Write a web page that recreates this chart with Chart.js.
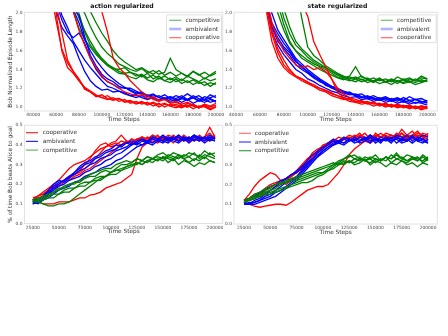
<!DOCTYPE html>
<html><head><meta charset="utf-8">
<script src="https://cdn.jsdelivr.net/npm/chart.js@4/dist/chart.umd.min.js"></script>
<style>
html,body{margin:0;padding:0;background:#fff;}
#wrap{position:relative;width:448px;height:336px;background:#fff;}
canvas{position:absolute;left:0;top:0;width:448px;height:336px;}
</style></head><body>
<div id="wrap">
<canvas id="c1" width="448" height="336"></canvas>
<canvas id="c2" width="448" height="336"></canvas>
<canvas id="c3" width="448" height="336"></canvas>
<canvas id="c4" width="448" height="336"></canvas>
</div>
<script>
// ---------- x values ----------
const X_TOP = [40000,45000,50000,55000,60000,65000,70000,75000,80000,85000,90000,95000,100000,105000,110000,115000,120000,125000,130000,135000,140000,145000,150000,155000,160000,165000,170000,175000,180000,185000,190000,195000,200000];
const X_BOT = [25000,30000,35000,40000,45000,50000,55000,60000,65000,70000,75000,80000,85000,90000,95000,100000,105000,110000,115000,120000,125000,130000,135000,140000,145000,150000,155000,160000,165000,170000,175000,180000,185000,190000,195000,200000];

// ---------- tick labels ----------
const TOP_X_TICKS = [40000,60000,80000,100000,120000,140000,160000,180000,200000];
const BOT_X_TICKS = [25000,50000,75000,100000,125000,150000,175000,200000];
const TOP_Y_TICKS = [1.0,1.2,1.4,1.6,1.8,2.0];
const BOT_Y_TICKS = [0.0,0.1,0.2,0.3,0.4,0.5];

// ---------- titles / legends ----------
const PANEL_TITLES = ['action regularized','state regularized'];
const TOP_LEGEND = ['competitive','ambivalent','cooperative'];
const BOT_LEGEND = ['cooperative','ambivalent','competitive'];
const X_TITLE = 'Time Steps';
const Y_TITLE_TOP = 'Bob Normalized Episode Length';
const Y_TITLE_BOT = '% of time Bob beats Alice to goal';

// ---------- top-left: action regularized, episode length ----------
const actLenCoop = [
 [3.2,2.9,2.6,2.25,1.92,1.62,1.47,1.38,1.29,1.21,1.17,1.13,1.1,1.12,1.08,1.09,1.06,1.07,1.04,1.06,1.03,1.05,1.02,1.04,1.01,1.03,1.0,1.04,1.01,0.99,1.03,1.0,1.02],
 [3.3,3.0,2.7,2.4,2.1,1.8,1.5,1.38,1.3,1.19,1.16,1.12,1.1,1.08,1.1,1.06,1.08,1.04,1.06,1.03,1.05,1.01,1.04,1.0,1.03,1.01,0.99,1.02,0.98,1.01,1.0,0.97,1.0],
 [3.6,3.4,3.2,3.0,2.7,2.45,2.22,2.02,1.82,1.66,1.52,1.42,1.33,1.27,1.24,1.2,1.16,1.14,1.12,1.13,1.09,1.11,1.07,1.08,1.05,1.06,1.03,1.05,1.02,1.0,1.03,1.01,1.04],
 [3.6,3.5,3.3,3.1,2.9,2.7,2.5,2.35,2.2,2.12,2.06,2.04,2.02,1.8,1.52,1.42,1.36,1.28,1.22,1.16,1.12,1.08,1.06,1.08,1.04,1.05,1.02,1.0,1.03,0.99,1.02,0.98,1.0],
 [3.2,2.9,2.6,2.3,2.0,1.6,1.42,1.36,1.28,1.2,1.16,1.11,1.13,1.09,1.07,1.09,1.05,1.06,1.03,1.05,1.02,1.04,1.0,1.03,1.01,0.99,1.02,1.0,1.03,0.99,1.01,0.98,1.0]
];
const actLenAmb = [
 [3.2,2.9,2.6,2.3,2.02,1.85,1.76,1.68,1.52,1.38,1.28,1.22,1.18,1.19,1.16,1.17,1.14,1.12,1.1,1.12,1.09,1.1,1.07,1.1,1.08,1.06,1.09,1.07,1.1,1.06,1.08,1.05,1.07],
 [3.3,3.0,2.7,2.4,2.12,1.93,1.8,1.74,1.79,1.68,1.52,1.4,1.32,1.27,1.24,1.2,1.21,1.17,1.14,1.15,1.11,1.13,1.1,1.08,1.11,1.09,1.12,1.08,1.1,1.07,1.11,1.09,1.06],
 [3.5,3.3,3.1,2.8,2.55,2.3,2.15,2.05,1.98,1.75,1.55,1.44,1.35,1.3,1.27,1.22,1.2,1.2,1.17,1.14,1.13,1.1,1.12,1.09,1.11,1.07,1.1,1.08,1.12,1.09,1.07,1.1,1.12],
 [3.4,3.1,2.8,2.5,2.2,1.98,1.85,1.7,1.6,1.5,1.42,1.35,1.28,1.22,1.2,1.17,1.15,1.12,1.13,1.1,1.08,1.1,1.07,1.09,1.06,1.08,1.05,1.08,1.04,1.07,1.05,1.08,1.05],
 [3.6,3.4,3.2,3.0,2.75,2.45,2.2,2.04,1.9,1.72,1.6,1.5,1.42,1.35,1.3,1.25,1.21,1.18,1.15,1.16,1.12,1.14,1.1,1.13,1.09,1.12,1.1,1.14,1.1,1.12,1.08,1.13,1.1]
];
const actLenComp = [
 [3.6,3.4,3.2,3.0,2.7,2.45,2.2,2.02,1.84,1.72,1.64,1.56,1.5,1.45,1.42,1.38,1.36,1.37,1.33,1.35,1.31,1.34,1.3,1.33,1.29,1.32,1.28,1.33,1.3,1.27,1.31,1.28,1.3],
 [3.7,3.5,3.3,3.1,2.9,2.65,2.4,2.18,2.0,1.8,1.66,1.58,1.5,1.44,1.4,1.36,1.35,1.32,1.3,1.34,1.29,1.27,1.31,1.28,1.26,1.3,1.25,1.28,1.24,1.27,1.23,1.26,1.24],
 [3.8,3.6,3.4,3.2,3.0,2.8,2.55,2.3,2.1,2.0,1.86,1.74,1.64,1.57,1.52,1.46,1.43,1.4,1.38,1.41,1.36,1.39,1.35,1.37,1.52,1.4,1.36,1.33,1.38,1.34,1.37,1.33,1.36],
 [3.8,3.7,3.5,3.3,3.1,2.9,2.7,2.45,2.25,2.1,2.02,1.9,1.79,1.7,1.6,1.53,1.48,1.44,1.4,1.42,1.38,1.35,1.39,1.34,1.37,1.33,1.36,1.32,1.38,1.35,1.3,1.34,1.38],
 [3.7,3.5,3.3,3.0,2.8,2.55,2.3,2.1,1.95,1.82,1.7,1.6,1.52,1.46,1.41,1.4,1.42,1.37,1.35,1.32,1.36,1.3,1.33,1.28,1.31,1.27,1.3,1.26,1.29,1.25,1.27,1.22,1.26]
];

// ---------- top-right: state regularized, episode length ----------
const stLenCoop = [
 [4.0,3.6,3.2,2.8,2.4,2.05,1.7,1.52,1.42,1.36,1.32,1.28,1.25,1.22,1.2,1.17,1.14,1.12,1.1,1.08,1.06,1.07,1.04,1.05,1.02,1.04,1.01,1.03,1.0,1.02,0.99,1.01,0.99],
 [4.0,3.6,3.2,2.8,2.45,2.1,1.82,1.62,1.5,1.4,1.33,1.3,1.27,1.22,1.18,1.16,1.12,1.1,1.08,1.09,1.05,1.06,1.03,1.05,1.01,1.03,1.0,1.02,0.99,1.01,0.98,1.0,0.98],
 [4.5,4.3,4.1,3.9,3.6,3.3,3.0,2.8,2.6,2.4,2.25,2.1,1.97,1.7,1.56,1.43,1.3,1.16,1.1,1.08,1.06,1.05,1.06,1.03,1.04,1.01,1.03,1.0,1.02,0.99,1.01,0.98,1.0],
 [4.0,3.7,3.3,2.9,2.5,2.12,1.78,1.58,1.45,1.38,1.33,1.3,1.26,1.24,1.2,1.18,1.15,1.12,1.09,1.06,1.05,1.03,1.04,1.01,1.03,1.0,1.02,0.99,1.01,0.98,1.0,0.97,0.99],
 [4.2,3.8,3.4,3.0,2.6,2.2,1.9,1.72,1.6,1.52,1.45,1.42,1.44,1.4,1.42,1.38,1.3,1.2,1.14,1.1,1.08,1.06,1.04,1.05,1.02,1.04,1.0,1.03,1.01,1.02,0.99,1.01,1.0]
];
const stLenAmb = [
 [4.0,3.6,3.2,2.8,2.4,2.08,1.85,1.7,1.62,1.55,1.45,1.4,1.36,1.31,1.27,1.24,1.2,1.18,1.15,1.13,1.14,1.11,1.09,1.1,1.07,1.09,1.06,1.08,1.05,1.07,1.04,1.06,1.04],
 [4.1,3.7,3.3,2.9,2.5,2.15,1.9,1.78,1.68,1.6,1.5,1.42,1.38,1.33,1.28,1.25,1.22,1.19,1.16,1.14,1.12,1.1,1.11,1.08,1.1,1.07,1.09,1.06,1.1,1.07,1.08,1.05,1.07],
 [4.0,3.6,3.2,2.8,2.45,2.1,1.8,1.66,1.56,1.48,1.4,1.36,1.3,1.27,1.23,1.2,1.17,1.15,1.12,1.1,1.11,1.08,1.09,1.06,1.08,1.05,1.07,1.04,1.06,1.03,1.05,1.04,1.02],
 [4.2,3.8,3.4,3.0,2.6,2.25,2.0,1.82,1.72,1.62,1.52,1.46,1.4,1.35,1.3,1.26,1.22,1.2,1.17,1.15,1.13,1.14,1.1,1.12,1.09,1.11,1.08,1.1,1.07,1.11,1.08,1.09,1.06],
 [4.1,3.7,3.3,2.9,2.5,2.1,1.86,1.74,1.64,1.58,1.48,1.44,1.37,1.32,1.29,1.23,1.21,1.17,1.14,1.16,1.12,1.1,1.12,1.09,1.07,1.1,1.06,1.09,1.07,1.05,1.08,1.06,1.05]
];
const stLenComp = [
 [4.5,4.2,3.9,3.6,3.2,2.8,2.4,2.1,1.88,1.7,1.6,1.55,1.5,1.46,1.43,1.4,1.36,1.32,1.3,1.28,1.3,1.27,1.29,1.26,1.3,1.27,1.28,1.25,1.29,1.26,1.3,1.27,1.29],
 [4.5,4.2,3.9,3.6,3.3,2.9,2.5,2.2,1.95,1.78,1.66,1.6,1.53,1.48,1.44,1.42,1.38,1.34,1.31,1.33,1.43,1.32,1.3,1.28,1.31,1.27,1.3,1.28,1.26,1.3,1.28,1.31,1.3],
 [4.8,4.6,4.4,4.1,3.8,3.5,3.2,2.9,2.6,2.45,2.3,1.95,1.64,1.55,1.5,1.44,1.4,1.36,1.33,1.3,1.32,1.29,1.31,1.27,1.3,1.26,1.29,1.27,1.3,1.28,1.26,1.29,1.27],
 [4.6,4.3,4.0,3.7,3.4,3.0,2.6,2.3,2.05,1.85,1.7,1.62,1.56,1.5,1.46,1.42,1.38,1.35,1.32,1.29,1.27,1.3,1.26,1.28,1.25,1.27,1.24,1.28,1.25,1.27,1.24,1.26,1.28],
 [4.5,4.2,3.8,3.4,3.0,2.6,2.25,2.0,1.82,1.68,1.6,1.52,1.48,1.44,1.4,1.37,1.34,1.31,1.29,1.32,1.3,1.33,1.29,1.31,1.28,1.3,1.27,1.32,1.29,1.31,1.28,1.33,1.3]
];

// ---------- bottom-left: action regularized, % Bob beats Alice ----------
const actWinCoop = [
 [0.12,0.14,0.16,0.18,0.2,0.22,0.25,0.28,0.3,0.31,0.32,0.34,0.36,0.38,0.39,0.41,0.42,0.45,0.42,0.41,0.43,0.44,0.42,0.45,0.43,0.44,0.42,0.45,0.43,0.44,0.42,0.45,0.43,0.44,0.46,0.43],
 [0.12,0.14,0.15,0.16,0.18,0.2,0.22,0.23,0.25,0.26,0.28,0.3,0.33,0.36,0.39,0.4,0.41,0.4,0.42,0.41,0.43,0.42,0.44,0.43,0.42,0.44,0.43,0.41,0.44,0.42,0.43,0.45,0.42,0.44,0.43,0.45],
 [0.12,0.11,0.1,0.1,0.1,0.11,0.11,0.11,0.12,0.13,0.13,0.145,0.15,0.16,0.18,0.19,0.2,0.21,0.23,0.25,0.33,0.39,0.41,0.42,0.41,0.43,0.42,0.44,0.42,0.43,0.41,0.44,0.43,0.42,0.44,0.43],
 [0.12,0.13,0.14,0.16,0.18,0.19,0.21,0.22,0.24,0.25,0.27,0.28,0.3,0.32,0.34,0.36,0.38,0.4,0.41,0.43,0.42,0.44,0.43,0.45,0.44,0.43,0.45,0.44,0.42,0.45,0.43,0.44,0.42,0.44,0.49,0.44],
 [0.13,0.14,0.15,0.17,0.19,0.2,0.22,0.24,0.25,0.27,0.3,0.33,0.37,0.4,0.41,0.39,0.4,0.42,0.41,0.43,0.41,0.44,0.42,0.43,0.45,0.42,0.44,0.43,0.45,0.43,0.44,0.42,0.45,0.43,0.42,0.44]
];
const actWinAmb = [
 [0.11,0.1,0.12,0.15,0.19,0.21,0.22,0.24,0.25,0.27,0.28,0.3,0.31,0.33,0.34,0.35,0.37,0.38,0.39,0.41,0.4,0.42,0.41,0.43,0.42,0.44,0.42,0.43,0.44,0.42,0.43,0.45,0.43,0.44,0.42,0.44],
 [0.1,0.11,0.13,0.15,0.17,0.19,0.2,0.22,0.23,0.24,0.26,0.27,0.29,0.3,0.32,0.33,0.35,0.36,0.38,0.4,0.41,0.4,0.42,0.41,0.43,0.42,0.41,0.43,0.42,0.44,0.41,0.43,0.42,0.44,0.43,0.42],
 [0.12,0.12,0.14,0.16,0.18,0.2,0.22,0.24,0.26,0.28,0.3,0.31,0.33,0.34,0.36,0.37,0.38,0.4,0.41,0.4,0.42,0.43,0.41,0.44,0.43,0.42,0.44,0.43,0.45,0.43,0.44,0.42,0.44,0.43,0.45,0.43],
 [0.1,0.11,0.12,0.13,0.15,0.17,0.18,0.19,0.21,0.22,0.24,0.25,0.26,0.28,0.29,0.3,0.32,0.33,0.35,0.37,0.39,0.4,0.41,0.4,0.42,0.41,0.43,0.42,0.41,0.43,0.42,0.44,0.43,0.41,0.43,0.42],
 [0.11,0.12,0.14,0.17,0.2,0.22,0.21,0.23,0.26,0.29,0.31,0.32,0.34,0.35,0.37,0.38,0.4,0.39,0.41,0.42,0.41,0.43,0.42,0.44,0.43,0.45,0.43,0.44,0.42,0.44,0.43,0.45,0.44,0.42,0.44,0.43]
];
const actWinComp = [
 [0.11,0.12,0.12,0.14,0.15,0.15,0.17,0.18,0.18,0.2,0.21,0.21,0.23,0.24,0.24,0.26,0.27,0.27,0.29,0.3,0.3,0.32,0.31,0.33,0.34,0.33,0.35,0.34,0.33,0.35,0.34,0.36,0.33,0.35,0.34,0.33],
 [0.12,0.11,0.1,0.09,0.09,0.1,0.1,0.11,0.13,0.15,0.17,0.19,0.21,0.23,0.24,0.26,0.27,0.28,0.29,0.3,0.31,0.3,0.32,0.33,0.32,0.34,0.33,0.32,0.34,0.33,0.31,0.33,0.32,0.34,0.32,0.31],
 [0.11,0.12,0.14,0.15,0.16,0.18,0.18,0.2,0.21,0.21,0.23,0.24,0.24,0.26,0.27,0.26,0.28,0.3,0.3,0.31,0.33,0.32,0.34,0.33,0.35,0.36,0.34,0.36,0.35,0.34,0.36,0.35,0.34,0.37,0.35,0.36],
 [0.12,0.13,0.13,0.14,0.16,0.17,0.19,0.2,0.2,0.22,0.23,0.25,0.26,0.27,0.28,0.28,0.3,0.31,0.32,0.31,0.33,0.32,0.34,0.33,0.32,0.34,0.31,0.33,0.3,0.32,0.31,0.29,0.31,0.3,0.32,0.31],
 [0.11,0.11,0.12,0.13,0.13,0.15,0.16,0.16,0.18,0.19,0.19,0.21,0.22,0.22,0.24,0.25,0.25,0.27,0.28,0.29,0.31,0.3,0.32,0.31,0.33,0.32,0.34,0.33,0.35,0.33,0.34,0.32,0.35,0.33,0.36,0.34]
];

// ---------- bottom-right: state regularized, % Bob beats Alice ----------
const stWinCoop = [
 [0.12,0.15,0.19,0.22,0.24,0.26,0.25,0.22,0.2,0.22,0.24,0.27,0.3,0.33,0.36,0.39,0.41,0.42,0.44,0.43,0.45,0.44,0.46,0.43,0.45,0.44,0.46,0.44,0.45,0.43,0.46,0.44,0.45,0.47,0.44,0.46],
 [0.11,0.1,0.09,0.085,0.09,0.095,0.1,0.1,0.095,0.11,0.13,0.15,0.17,0.18,0.19,0.19,0.2,0.23,0.26,0.3,0.35,0.38,0.4,0.42,0.41,0.43,0.42,0.44,0.43,0.45,0.42,0.44,0.43,0.45,0.44,0.43],
 [0.12,0.13,0.15,0.16,0.18,0.2,0.21,0.22,0.23,0.25,0.26,0.29,0.32,0.36,0.38,0.39,0.41,0.43,0.42,0.44,0.43,0.45,0.44,0.46,0.43,0.45,0.44,0.46,0.45,0.44,0.48,0.45,0.44,0.46,0.45,0.44],
 [0.11,0.12,0.13,0.15,0.17,0.19,0.2,0.21,0.23,0.24,0.26,0.28,0.31,0.34,0.37,0.4,0.41,0.4,0.42,0.43,0.42,0.44,0.43,0.42,0.45,0.43,0.44,0.43,0.45,0.44,0.46,0.43,0.45,0.44,0.43,0.45],
 [0.12,0.12,0.13,0.14,0.16,0.17,0.19,0.2,0.22,0.24,0.27,0.3,0.33,0.35,0.36,0.38,0.4,0.42,0.41,0.43,0.44,0.43,0.45,0.44,0.42,0.46,0.44,0.45,0.43,0.46,0.44,0.45,0.47,0.44,0.46,0.45]
];
const stWinAmb = [
 [0.11,0.1,0.11,0.12,0.14,0.15,0.17,0.19,0.21,0.22,0.24,0.27,0.3,0.33,0.35,0.37,0.39,0.41,0.42,0.41,0.43,0.42,0.44,0.43,0.41,0.44,0.42,0.43,0.41,0.44,0.42,0.43,0.41,0.43,0.42,0.41],
 [0.1,0.1,0.12,0.13,0.15,0.17,0.19,0.21,0.23,0.25,0.27,0.29,0.32,0.35,0.37,0.39,0.4,0.42,0.41,0.43,0.42,0.44,0.42,0.43,0.45,0.42,0.44,0.43,0.42,0.44,0.43,0.45,0.42,0.44,0.43,0.42],
 [0.11,0.1,0.1,0.11,0.12,0.13,0.14,0.16,0.18,0.2,0.22,0.25,0.28,0.31,0.34,0.37,0.39,0.4,0.42,0.41,0.43,0.41,0.42,0.44,0.42,0.43,0.41,0.44,0.42,0.43,0.41,0.42,0.44,0.42,0.41,0.43],
 [0.12,0.13,0.14,0.16,0.17,0.19,0.2,0.22,0.23,0.25,0.26,0.28,0.31,0.33,0.36,0.38,0.41,0.43,0.42,0.44,0.43,0.42,0.44,0.43,0.45,0.43,0.42,0.44,0.43,0.45,0.44,0.42,0.44,0.43,0.45,0.44],
 [0.1,0.11,0.11,0.12,0.13,0.14,0.16,0.17,0.19,0.21,0.23,0.26,0.29,0.32,0.34,0.36,0.38,0.4,0.41,0.4,0.42,0.43,0.41,0.42,0.44,0.41,0.43,0.42,0.44,0.41,0.43,0.42,0.45,0.42,0.43,0.41]
];
const stWinComp = [
 [0.12,0.13,0.15,0.16,0.18,0.19,0.2,0.21,0.22,0.23,0.23,0.24,0.25,0.26,0.27,0.28,0.29,0.3,0.32,0.33,0.34,0.35,0.33,0.32,0.34,0.33,0.32,0.34,0.33,0.35,0.33,0.32,0.34,0.33,0.32,0.34],
 [0.12,0.12,0.13,0.15,0.17,0.18,0.2,0.21,0.21,0.22,0.22,0.23,0.24,0.25,0.26,0.26,0.28,0.3,0.31,0.3,0.32,0.31,0.33,0.32,0.31,0.33,0.32,0.34,0.31,0.33,0.32,0.31,0.33,0.32,0.34,0.32],
 [0.11,0.12,0.13,0.14,0.15,0.16,0.17,0.18,0.19,0.2,0.21,0.22,0.23,0.24,0.25,0.26,0.27,0.29,0.31,0.33,0.35,0.33,0.34,0.32,0.33,0.31,0.33,0.32,0.35,0.33,0.34,0.32,0.33,0.34,0.31,0.33],
 [0.12,0.13,0.14,0.15,0.16,0.17,0.18,0.2,0.21,0.23,0.24,0.25,0.26,0.27,0.28,0.29,0.3,0.31,0.3,0.32,0.31,0.33,0.32,0.34,0.33,0.35,0.32,0.34,0.33,0.36,0.33,0.35,0.34,0.32,0.35,0.33],
 [0.12,0.12,0.13,0.14,0.15,0.15,0.16,0.17,0.18,0.19,0.2,0.21,0.21,0.22,0.24,0.25,0.27,0.28,0.3,0.31,0.32,0.3,0.31,0.33,0.3,0.32,0.31,0.29,0.31,0.3,0.32,0.3,0.31,0.29,0.31,0.3]
];

// ---------- drawing ----------
const RED = '#ff0000', BLUE = '#0000ff', GREEN = '#008000';
const FONT = '"DejaVu Sans", sans-serif';

function makePlugin(o) {
  return {
    id: 'panel_' + o.id,
    beforeDatasetsDraw(chart) {
      const a = chart.chartArea, ctx = chart.ctx;
      ctx.save();
      ctx.strokeStyle = '#e2e2e2'; ctx.lineWidth = 1;
      ctx.strokeRect(a.left, a.top, a.right - a.left, a.bottom - a.top);
      ctx.restore();
    },
    afterDraw(chart) {
      const ctx = chart.ctx;
      ctx.save();
      if (o.title) {
        ctx.font = 'bold 6.2px ' + FONT;
        ctx.fillStyle = '#111';
        ctx.textAlign = 'center'; ctx.textBaseline = 'middle';
        ctx.fillText(o.title, o.titleX, o.titleY);
      }
      const L = o.legend;
      if (L.box) {
        const b = L.box, r = 1.5;
        ctx.beginPath();
        ctx.moveTo(b[0] + r, b[1]);
        ctx.arcTo(b[2], b[1], b[2], b[3], r);
        ctx.arcTo(b[2], b[3], b[0], b[3], r);
        ctx.arcTo(b[0], b[3], b[0], b[1], r);
        ctx.arcTo(b[0], b[1], b[2], b[1], r);
        ctx.closePath();
        ctx.fillStyle = 'rgba(255,255,255,0.8)'; ctx.fill();
        ctx.strokeStyle = '#d8d8d8'; ctx.lineWidth = 0.8; ctx.stroke();
      }
      L.labels.forEach((lab, k) => {
        const y = L.y0 + k * L.dy;
        ctx.strokeStyle = L.colors[k]; ctx.lineWidth = L.widths[k];
        ctx.beginPath(); ctx.moveTo(L.lx, y); ctx.lineTo(L.lx + 12, y); ctx.stroke();
        ctx.fillStyle = '#333'; ctx.font = '5.8px ' + FONT;
        ctx.textAlign = 'left'; ctx.textBaseline = 'middle';
        ctx.fillText(lab, L.tx, y);
      });
      ctx.restore();
    }
  };
}

function panel(o) {
  const xH = 12;
  const ds = [];
  o.groups.forEach(g => g.series.forEach(vals => ds.push({
    data: vals.map((v, i) => ({x: o.xs[i], y: v})),
    borderColor: g.color, borderWidth: 1.3, pointRadius: 0, tension: 0, fill: false
  })));
  new Chart(document.getElementById(o.id), {
    type: 'line',
    data: {datasets: ds},
    options: {
      responsive: false, animation: false, devicePixelRatio: 1, events: [],
      layout: {padding: {left: o.area.l - o.yW, top: o.area.t, right: 448 - o.area.r, bottom: 336 - o.area.b - xH}},
      plugins: {legend: {display: false}, tooltip: {enabled: false}, title: {display: false}},
      scales: {
        x: {
          type: 'linear', min: o.xMin, max: o.xMax,
          afterBuildTicks: s => { s.ticks = o.xTicks.map(v => ({value: v})); },
          afterFit: s => { s.height = xH; s.paddingLeft = 0; s.paddingRight = 0; },
          grid: {display: false, drawTicks: false}, border: {display: false},
          ticks: {autoSkip: false, maxRotation: 0, minRotation: 0, padding: 1.5, color: '#444',
                  font: {family: FONT, size: 4.4}, callback: v => String(v)},
          title: {display: true, text: X_TITLE, color: '#333', font: {family: FONT, size: 5.8},
                  padding: {top: 0, bottom: 0.5}}
        },
        y: {
          type: 'linear', min: o.yMin, max: o.yMax,
          afterBuildTicks: s => { s.ticks = o.yTicks.map(v => ({value: v})); },
          afterFit: s => { s.width = o.yW; s.paddingTop = 0; s.paddingBottom = 0; },
          grid: {display: false, drawTicks: false}, border: {display: false},
          ticks: {autoSkip: false, padding: 2, color: '#444', font: {family: FONT, size: 4.4},
                  callback: v => Number(v).toFixed(1)},
          title: {display: !!o.yTitle, text: o.yTitle || '', color: '#333', font: {family: FONT, size: 5.8},
                  padding: {top: 7, bottom: 0}}
        }
      }
    },
    plugins: [makePlugin(o)]
  });
}

const topLegendStyle = {colors: ['rgba(0,128,0,0.55)', 'rgba(0,0,255,0.3)', 'rgba(255,0,0,0.6)'], widths: [1.2, 2.6, 1.2]};

panel({
  id: 'c1', xs: X_TOP, area: {l: 24.5, t: 12.3, r: 222.7, b: 111}, yW: 24.5,
  xMin: 32300, xMax: 205900, yMin: 0.957, yMax: 2.011,
  xTicks: TOP_X_TICKS, yTicks: TOP_Y_TICKS, yTitle: Y_TITLE_TOP,
  title: PANEL_TITLES[0], titleX: 122, titleY: 6.3,
  groups: [{color: RED, series: actLenCoop}, {color: BLUE, series: actLenAmb}, {color: GREEN, series: actLenComp}],
  legend: {labels: TOP_LEGEND, colors: topLegendStyle.colors, widths: topLegendStyle.widths,
           lx: 169.3, tx: 185.5, y0: 20.3, dy: 8.7, box: [166.5, 14.8, 221.5, 42.6]}
});
panel({
  id: 'c2', xs: X_TOP, area: {l: 234, t: 12.3, r: 437.3, b: 111}, yW: 10,
  xMin: 38330, xMax: 208360, yMin: 0.957, yMax: 2.011,
  xTicks: TOP_X_TICKS, yTicks: TOP_Y_TICKS, yTitle: '',
  title: PANEL_TITLES[1], titleX: 337.5, titleY: 6.3,
  groups: [{color: RED, series: stLenCoop}, {color: BLUE, series: stLenAmb}, {color: GREEN, series: stLenComp}],
  legend: {labels: TOP_LEGEND, colors: topLegendStyle.colors, widths: topLegendStyle.widths,
           lx: 380.7, tx: 397, y0: 20.3, dy: 8.7, box: [378, 14.8, 436.3, 42.6]}
});
panel({
  id: 'c3', xs: X_BOT, area: {l: 24.5, t: 125.3, r: 222.7, b: 223.5}, yW: 24.5,
  xMin: 17050, xMax: 207400, yMin: 0, yMax: 0.5,
  xTicks: BOT_X_TICKS, yTicks: BOT_Y_TICKS, yTitle: Y_TITLE_BOT,
  title: '', titleX: 0, titleY: 0,
  groups: [{color: GREEN, series: actWinComp}, {color: BLUE, series: actWinAmb}, {color: RED, series: actWinCoop}],
  legend: {labels: BOT_LEGEND, colors: ['rgba(255,0,0,0.85)', 'rgba(0,0,255,0.85)', 'rgba(0,128,0,0.6)'], widths: [1.2, 1.2, 1.2],
           lx: 26, tx: 42.7, y0: 132.7, dy: 8.7, box: null}
});
panel({
  id: 'c4', xs: X_BOT, area: {l: 234, t: 125.3, r: 437.3, b: 224}, yW: 10,
  xMin: 15530, xMax: 208800, yMin: 0, yMax: 0.5,
  xTicks: BOT_X_TICKS, yTicks: BOT_Y_TICKS, yTitle: '',
  title: '', titleX: 0, titleY: 0,
  groups: [{color: GREEN, series: stWinComp}, {color: BLUE, series: stWinAmb}, {color: RED, series: stWinCoop}],
  legend: {labels: BOT_LEGEND, colors: ['rgba(255,0,0,0.55)', 'rgba(0,0,255,0.75)', 'rgba(0,128,0,0.75)'], widths: [1.2, 1.2, 1.2],
           lx: 239, tx: 254.7, y0: 133.3, dy: 8.7, box: null}
});
</script>
</body></html>
